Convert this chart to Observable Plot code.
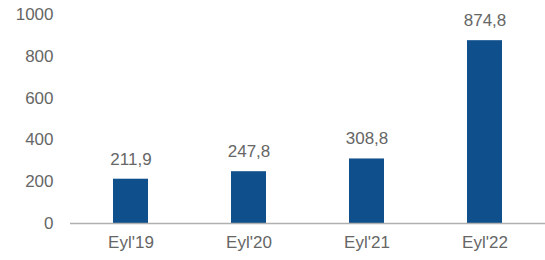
<!DOCTYPE html>
<html>
<head>
<meta charset="utf-8">
<script src="https://cdn.jsdelivr.net/npm/d3@7"></script>
<script src="https://cdn.jsdelivr.net/npm/@observablehq/plot@0.6"></script>
<style>
  html, body { margin: 0; padding: 0; background: #fff; }
  #chart svg { display: block; }
</style>
</head>
<body>
<div id="chart"></div>
<script>
const categories = ["Eyl'19", "Eyl'20", "Eyl'21", "Eyl'22"];
const values = [211.9, 247.8, 308.8, 874.8];
const labels = ["211,9", "247,8", "308,8", "874,8"];
const yTicks = [0, 200, 400, 600, 800, 1000];

const data = categories.map((c, i) => ({ cat: c, value: values[i], label: labels[i] }));

const chart = Plot.plot({
  width: 545,
  height: 260,
  marginLeft: 70,
  marginRight: 0,
  marginTop: 14,
  marginBottom: 37,
  style: { fontFamily: "'Liberation Sans', Arial, sans-serif", fontSize: "17px", color: "#666", background: "#fff" },
  x: { domain: categories, paddingInner: 0.7, paddingOuter: 0.35, label: null, tickSize: 0, tickPadding: 12 },
  y: { domain: [0, 1000], ticks: yTicks, tickFormat: d => String(d), label: null, tickSize: 0, tickPadding: 17 },
  marks: [
    Plot.barY(data, { x: "cat", y: "value", fill: "#0f4f8c" }),
    Plot.ruleY([0], { stroke: "#b0b0b0", strokeWidth: 1.5 }),
    Plot.text(data, { x: "cat", y: "value", text: "label", dy: -20, fill: "#666", fontSize: 17 })
  ]
});
document.getElementById("chart").appendChild(chart);
</script>
</body>
</html>
